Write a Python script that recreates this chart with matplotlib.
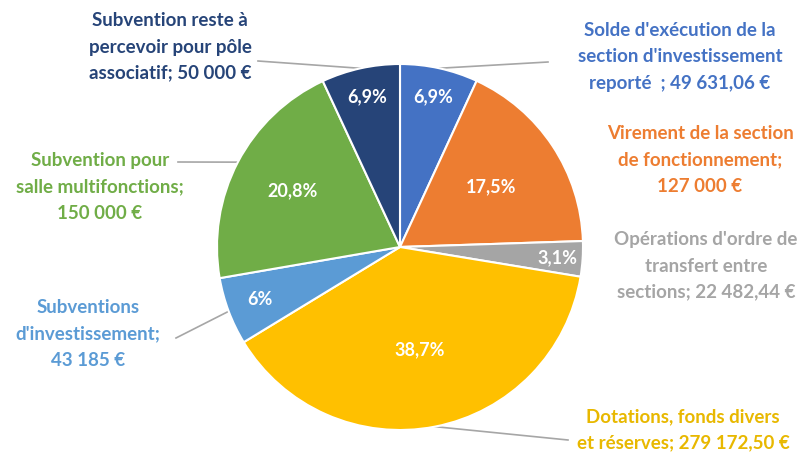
import numpy as np
import matplotlib.pyplot as plt

plt.rcParams['font.family'] = ['Lato', 'DejaVu Sans']

labels = [
    "Solde d'exécution de la\nsection d'investissement\nreporté  ; 49 631,06 €",
    "Virement de la section\nde fonctionnement;\n127 000 €",
    "Opérations d'ordre de\ntransfert entre\nsections; 22 482,44 €",
    "Dotations, fonds divers\net réserves; 279 172,50 €",
    "Subventions\nd'investissement;\n43 185 €",
    "Subvention pour\nsalle multifonctions;\n150 000 €",
    "Subvention reste à\npercevoir pour pôle\nassociatif; 50 000 €",
]
values = [49631.06, 127000, 22482.44, 279172.50, 43185, 150000, 50000]
pct_labels = ['6,9%', '17,5%', '3,1%', '38,7%', '6%', '20,8%', '6,9%']
colors = ['#4472C4', '#ED7D31', '#A5A5A5', '#FFC000', '#5B9BD5', '#70AD47', '#264478']
text_colors = ['#4472C4', '#ED7D31', '#A5A5A5', '#E8B800', '#5B9BD5', '#70AD47', '#264478']

W, H = 807, 455
CX, CY, R = 400, H - 247, 183

# label centres (pixels from top-left) and leader end points (None = no leader)
label_pos = [(680, 57), (700, 160), (706, 266), (683, 430), (88, 334), (100, 187), (170, 47)]
leader_end = [(548, 62), None, None, (568, 440), (176, 338), (178, 162), (258, 61)]
pct_dist = [0.84, 0.60, 0.86, 0.57, 0.82, 0.66, 0.84]

fig = plt.figure(figsize=(W / 100, H / 100), dpi=100)
ax = fig.add_axes([0, 0, 1, 1])

wedges, _ = ax.pie(values, colors=colors, startangle=90, counterclock=False,
                   center=(CX, CY), radius=R,
                   wedgeprops=dict(edgecolor='white', linewidth=1.5), frame=True)
ax.set_xlim(0, W)
ax.set_ylim(0, H)
ax.axis('off')

for w, p, d in zip(wedges, pct_labels, pct_dist):
    ang = np.deg2rad((w.theta1 + w.theta2) / 2)
    ax.text(CX + d * R * np.cos(ang), CY + d * R * np.sin(ang), p, color='white',
            fontsize=13, fontweight='bold', ha='center', va='center')

for w, lab, tc, (lx, ly), le in zip(wedges, labels, text_colors, label_pos, leader_end):
    ax.text(lx, H - ly, lab, color=tc, fontsize=13.5, fontweight='bold',
            ha='center', va='center', linespacing=1.65)
    if le is not None:
        ang = np.deg2rad((w.theta1 + w.theta2) / 2)
        sx, sy = CX + R * np.cos(ang), CY + R * np.sin(ang)
        ax.plot([sx, le[0]], [sy, H - le[1]], color='#A6A6A6', lw=1.2, zorder=0)

fig.savefig('out.png', dpi=100)
